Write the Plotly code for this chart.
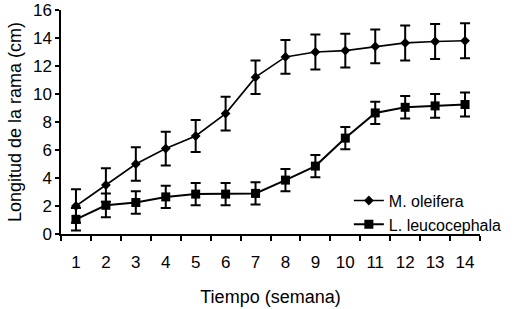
import plotly.graph_objects as go

weeks = [str(i) for i in range(1, 15)]
oleifera = [2.0, 3.5, 5.0, 6.1, 7.0, 8.6, 11.2, 12.65, 13.0, 13.1, 13.4, 13.65, 13.75, 13.8]
oleifera_err = [1.2, 1.2, 1.2, 1.2, 1.15, 1.2, 1.2, 1.2, 1.25, 1.2, 1.2, 1.25, 1.25, 1.25]
leuco = [1.05, 2.05, 2.25, 2.65, 2.85, 2.85, 2.9, 3.85, 4.85, 6.85, 8.65, 9.05, 9.15, 9.25]
leuco_err = [0.8, 0.85, 0.8, 0.8, 0.8, 0.8, 0.8, 0.8, 0.8, 0.8, 0.8, 0.8, 0.85, 0.85]
y_ticks = [0, 2, 4, 6, 8, 10, 12, 14, 16]

FONT = "Liberation Sans, Arial, sans-serif"

fig = go.Figure()
fig.add_trace(go.Scatter(
    x=weeks, y=oleifera, name="M. oleifera", mode="lines+markers",
    line=dict(color="black", width=1.6),
    marker=dict(symbol="diamond", size=7.5, color="black"),
    error_y=dict(type="data", array=oleifera_err, visible=True,
                 color="black", thickness=2, width=5),
))
fig.add_trace(go.Scatter(
    x=weeks, y=leuco, name="L. leucocephala", mode="lines+markers",
    line=dict(color="black", width=2),
    marker=dict(symbol="square", size=9, color="black"),
    error_y=dict(type="data", array=leuco_err, visible=True,
                 color="black", thickness=2, width=5),
))

fig.update_layout(
    width=517, height=309,
    margin=dict(l=61, r=19, t=10, b=75),
    paper_bgcolor="white", plot_bgcolor="white",
    font=dict(family=FONT, size=17, color="black"),
    showlegend=True,
    legend=dict(x=0.687, y=0.225, xanchor="left", yanchor="top",
                bgcolor="rgba(0,0,0,0)", font=dict(size=16),
                tracegroupgap=0, itemwidth=30),
    xaxis=dict(
        type="category", categoryorder="array", categoryarray=weeks,
        range=[-0.5, 13.5], tickson="boundaries", automargin=False,
        showline=True, linecolor="black", linewidth=1.5,
        ticks="outside", ticklen=5, tickwidth=1.5, tickcolor="black",
        ticklabelstandoff=12, tickfont=dict(size=17),
        showgrid=False, zeroline=False,
        title=dict(text="Tiempo (semana)", font=dict(size=18), standoff=19),
    ),
    yaxis=dict(
        range=[0, 16], tickvals=y_ticks, automargin=False,
        showline=True, linecolor="black", linewidth=1.5,
        ticks="outside", ticklen=4, tickwidth=1.5, tickcolor="black",
        tickfont=dict(size=17),
        showgrid=False, zeroline=False,
        title=dict(text="Longitud de la rama (cm)", font=dict(size=18), standoff=7),
    ),
)

fig.write_html("out.html", config={"displayModeBar": False},
               post_script="document.body.style.margin='0px';")
